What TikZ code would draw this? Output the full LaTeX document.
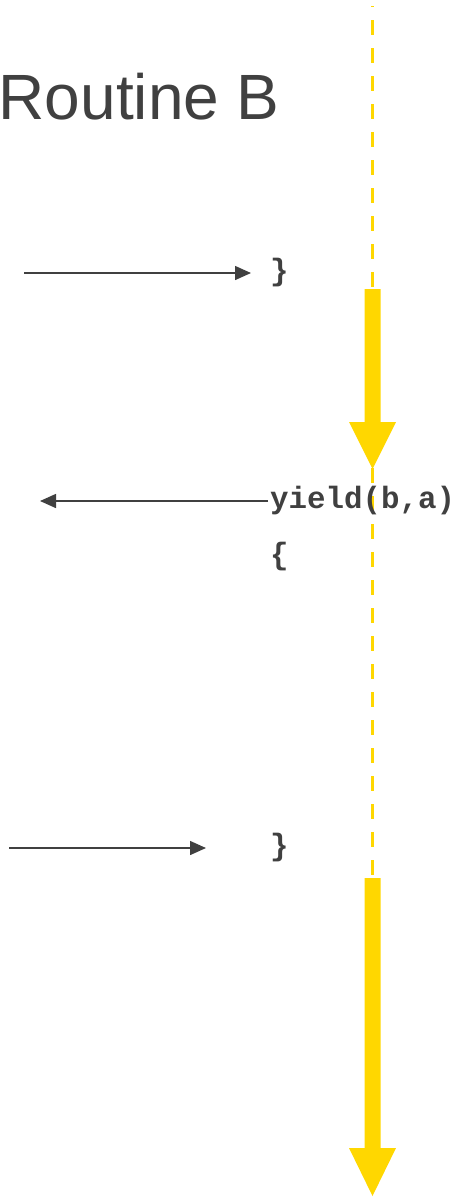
\documentclass[tikz,border=0pt]{standalone}
\usepackage{fontspec}
\setmainfont{Liberation Sans}
\newfontfamily\codefont{Liberation Mono}
\usetikzlibrary{arrows.meta}
\definecolor{ink}{HTML}{404040}
\definecolor{gold}{HTML}{FFD700}
\begin{document}
\begin{tikzpicture}[x=1pt,y=-1pt,
  title/.style={anchor=base west,inner sep=0pt,text=ink,font=\fontsize{64}{70}\selectfont},
  code/.style={anchor=west,inner sep=0pt,text=ink,font=\codefont\bfseries\fontsize{30.8}{34}\selectfont},
  flow/.style={draw=ink,line width=1.5pt,-{Triangle[length=16pt,width=14pt]}},
  timeline/.style={draw=gold,line width=3pt,dash pattern=on 15pt off 13pt,dash phase=14pt},
  bigarrow/.style={fill=gold}
]
\useasboundingbox (0,0) rectangle (461,1197);

% time line of the routine
\coordinate (tlTop) at (372.5,6);
\coordinate (tlEnd) at (372.5,878);
\draw[timeline] (tlTop) -- (tlEnd);

% running phases
\fill[bigarrow] (364.5,289) -- (380.5,289) -- (380.5,422) -- (396,422)
  -- (372.5,469) -- (349,422) -- (364.5,422) -- cycle;
\fill[bigarrow] (364.5,878) -- (380.5,878) -- (380.5,1148) -- (396,1148)
  -- (372.5,1196) -- (349,1148) -- (364.5,1148) -- cycle;

% heading
\node[title] (head) at (-1.5,119) {Routine B};

% code lines
\node[code] (close1) at (270,273) {\}};
\node[code] (yield) at (270,501) {yield(b,a)};
\node[code] (open1) at (270,557) {\{};
\node[code] (close2) at (270,848) {\}};

% control transfers
\coordinate (in1) at (24,273);
\coordinate (out1) at (40,501);
\coordinate (in2) at (9,848);
\draw[flow,shorten >=19pt] (in1) -- (close1.west);
\draw[flow,shorten <=2pt] (yield.west) -- (out1);
\draw[flow,shorten >=64pt] (in2) -- (close2.west);
\end{tikzpicture}
\end{document}
